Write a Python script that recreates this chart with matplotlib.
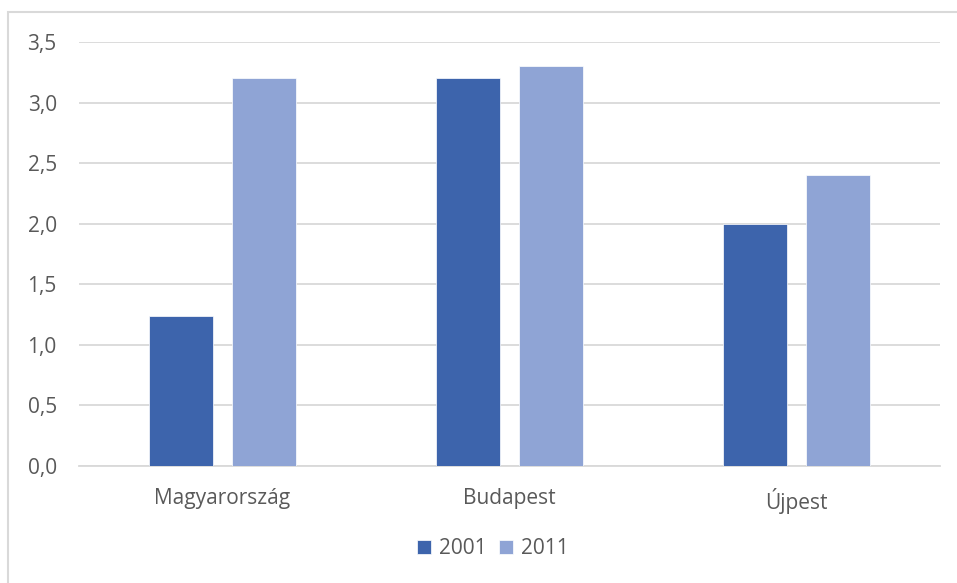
import matplotlib
matplotlib.use("Agg")
import matplotlib.pyplot as plt
from matplotlib.ticker import FuncFormatter
from matplotlib.patches import Rectangle
import numpy as np

categories = ["Magyarország", "Budapest", "Újpest"]
series_names = ["2001", "2011"]
values_2001 = [1.24, 3.2, 2.0]
values_2011 = [3.2, 3.3, 2.4]
colors = ["#3D64AC", "#8FA4D5"]

plt.rcParams['font.family'] = ['Open Sans', 'DejaVu Sans']
text_color = "#595959"

fig = plt.figure(figsize=(9.57, 5.83), dpi=100)
ax = fig.add_axes([79/957, 1-466/583, (940-79)/957, (466-42)/583])

x = np.arange(len(categories))
w = 0.223
off = 0.144
ax.bar(x - off, values_2001, w, color=colors[0], label=series_names[0], zorder=3,
       edgecolor="white", linewidth=0.5)
ax.bar(x + off, values_2011, w, color=colors[1], label=series_names[1], zorder=3,
       edgecolor="white", linewidth=0.5)

ax.set_xlim(-0.5, 2.5)
ax.set_ylim(0, 3.5)
ax.set_yticks(np.arange(0, 3.51, 0.5))
ax.yaxis.set_major_formatter(FuncFormatter(lambda v, p: f"{v:.1f}".replace(".", ",")))
ax.set_xticks(x)
ax.set_xticklabels(categories)
ax.grid(axis="y", color="#D9D9D9", linewidth=1.3, zorder=0)
for s in ["top", "right", "left"]:
    ax.spines[s].set_visible(False)
ax.spines["bottom"].set_color("#D9D9D9")
ax.spines["bottom"].set_linewidth(1.3)
ax.tick_params(axis="both", length=0, colors=text_color, labelsize=15)
ax.tick_params(axis="y", pad=16)
ax.tick_params(axis="x", pad=16)

leg = fig.legend(loc="center", bbox_to_anchor=(493/957, 1-549/583), ncol=2, frameon=False,
                 fontsize=15, handlelength=0.65, handleheight=0.65, columnspacing=0.6,
                 handletextpad=0.4)
for t in leg.get_texts():
    t.set_color(text_color)

fig.patches.append(Rectangle((8/957, -0.1), 1.5, 1.1 - 12/583, transform=fig.transFigure,
                             fill=False, edgecolor="#D9D9D9", linewidth=1.5))

fig.savefig("out.png", dpi=100)
